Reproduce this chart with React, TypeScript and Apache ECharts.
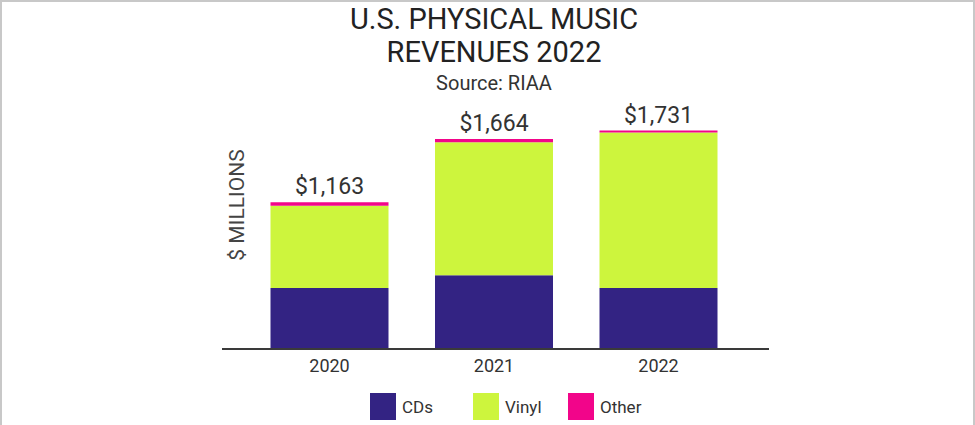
import React, { useEffect, useRef } from "react";
import * as echarts from "echarts";

const years = ["2020", "2021", "2022"];
const cds = [483, 584, 483];
const vinyl = [652, 1054, 1232];
const other = [28, 26, 16];
const totals = years.map((_, i) => cds[i] + vinyl[i] + other[i]);

const FONT = "Roboto, 'Noto Sans', sans-serif";

export default function App() {
  const ref = useRef<HTMLDivElement>(null);
  useEffect(() => {
    if (!ref.current) return;
    const chart = echarts.init(ref.current, undefined, { renderer: "svg" });
    const legendCommon = {
      top: 393,
      padding: 0,
      itemWidth: 26,
      itemHeight: 27,
      icon: "rect",
      itemGap: 6,
      textStyle: { fontSize: 17, color: "#333", fontFamily: FONT, padding: [0, 0, 0, 1] },
    };
    chart.setOption({
      animation: false,
      backgroundColor: "#fff",
      textStyle: { fontFamily: FONT },
      title: {
        text: "U.S. PHYSICAL MUSIC\nREVENUES 2022",
        subtext: "Source: RIAA",
        left: 494,
        top: 2,
        padding: 0,
        textAlign: "center",
        itemGap: 5,
        textStyle: { fontSize: 29, lineHeight: 33, fontWeight: "normal", color: "#222", fontFamily: FONT },
        subtextStyle: { fontSize: 20, color: "#333", fontFamily: FONT },
      },
      legend: [
        { ...legendCommon, left: 370, data: ["CDs"] },
        { ...legendCommon, left: 473, data: ["Vinyl"] },
        { ...legendCommon, left: 568, data: ["Other"] },
      ],
      grid: { left: 247.25, right: 975 - 740.75, top: 96.6, bottom: 76 },
      xAxis: {
        type: "category",
        data: years,
        axisLine: { show: false },
        axisTick: { show: false },
        axisLabel: { fontSize: 18, color: "#333", margin: 7, fontFamily: FONT },
      },
      yAxis: {
        type: "value",
        min: 0,
        max: 2000,
        show: false,
      },
      graphic: [
        {
          type: "polyline",
          shape: { points: [[1, 425], [1, 1], [974, 1], [974, 425]] },
          style: { stroke: "#c8c8c8", lineWidth: 2, fill: null },
          silent: true,
        },
        {
          type: "line",
          shape: { x1: 222, y1: 349, x2: 769, y2: 349 },
          style: { stroke: "#3a3a3a", lineWidth: 2 },
          z: 10,
        },
        {
          type: "text",
          x: 237,
          y: 205,
          rotation: Math.PI / 2,
          style: {
            text: "$ MILLIONS",
            fontSize: 21,
            fill: "#444",
            fontFamily: FONT,
            align: "center",
            verticalAlign: "middle",
          },
        },
      ],
      series: [
        {
          name: "CDs",
          type: "bar",
          stack: "total",
          barWidth: 118,
          data: cds,
          itemStyle: { color: "#332383" },
        },
        {
          name: "Vinyl",
          type: "bar",
          stack: "total",
          barWidth: 118,
          data: vinyl,
          itemStyle: { color: "#cdf53d" },
        },
        {
          name: "Other",
          type: "bar",
          stack: "total",
          barWidth: 118,
          data: other,
          itemStyle: { color: "#f2058a" },
          label: {
            show: true,
            position: "top",
            distance: 4,
            fontSize: 23,
            color: "#333",
            fontFamily: FONT,
            formatter: (p: any) => "$" + totals[p.dataIndex].toLocaleString("en-US"),
          },
        },
      ],
    });
    return () => chart.dispose();
  }, []);
  return (
    <div
      ref={ref}
      style={{ position: "fixed", left: 0, top: 0, width: 975, height: 425 }}
    />
  );
}
